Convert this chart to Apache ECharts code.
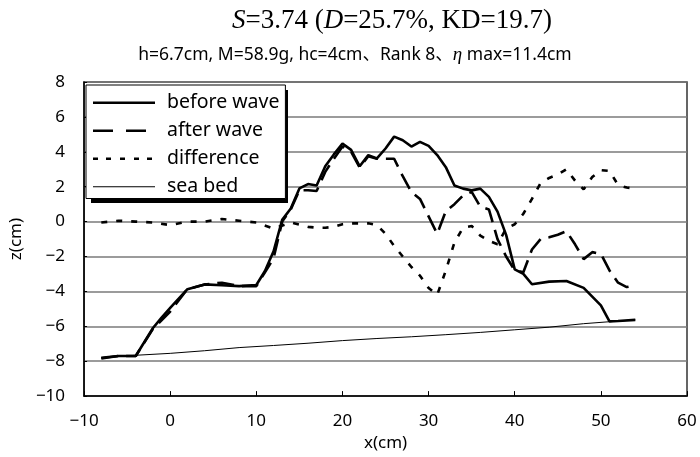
<!DOCTYPE html>
<html>
<head>
<meta charset="utf-8">
<script src="https://cdn.jsdelivr.net/npm/echarts@6/dist/echarts.min.js"></script>
<style>
  html, body { margin: 0; padding: 0; background: #fff; }
  #chart { width: 700px; height: 457px; }
</style>
</head>
<body>
<div id="chart"></div>
<script>
// Beach profile measurements (x in cm, z in cm)
const beforeX = [-8,-6,-4,-2,-1,0,2,4,6,8,10,11,12,13,14,15,16,17,18,19,20,21,22,23,24,25,26,27,28,29,30,31,32,33,34,35,36,37,38,39,40,41,42,44,46,48,50,51,52,54];
const beforeZ = [-7.8,-7.7,-7.7,-6.1,-5.5,-4.95,-3.87,-3.6,-3.65,-3.7,-3.63,-2.83,-1.7,0.1,0.75,1.9,2.15,2.07,3.17,3.85,4.47,4.11,3.17,3.81,3.62,4.19,4.87,4.66,4.3,4.57,4.34,3.81,3.12,2.07,1.89,1.79,1.89,1.42,0.57,-0.76,-2.74,-3.0,-3.59,-3.44,-3.4,-3.8,-4.8,-5.72,-5.7,-5.63];

const afterX = [-8,-6,-4,-2,0,2,4,6,8,10,11,12,13,14,15,16,17,18,19,20,21,22,23,24,25,26,27,28,29,30,31,32,33,34,35,36,37,38,39,40,41,42,43,44,45,46,47,48,49,50,51,52,53,54];
const afterZ = [-7.85,-7.7,-7.7,-6.15,-5.15,-3.87,-3.6,-3.5,-3.7,-3.7,-2.9,-2.1,0.0,0.7,1.8,1.8,1.75,2.85,3.6,4.3,4.0,3.1,3.75,3.6,3.6,3.6,2.6,1.7,1.3,0.3,-0.7,0.6,1.0,1.5,1.7,0.85,0.7,-1.0,-2.0,-2.8,-2.9,-1.6,-1.0,-0.9,-0.75,-0.55,-1.3,-2.15,-1.75,-1.85,-2.8,-3.5,-3.75,-3.65];

const diffX = [-8,-6,-4,-2,0,2,4,6,8,10,12,14,16,17,18,19,20,21,22,23,24,25,26,27,28,29,30,31,32,33,34,35,36,37,38,39,40,41,42,43,44,45,46,47,48,49,50,51,52,53,54];
const diffZ = [-0.05,0.05,0,-0.05,-0.2,0,0,0.15,0.05,-0.05,-0.4,-0.05,-0.3,-0.35,-0.35,-0.3,-0.15,-0.1,-0.1,-0.1,-0.2,-0.7,-1.4,-2.0,-2.6,-3.1,-3.8,-4.2,-2.8,-1.2,-0.35,-0.25,-0.8,-1.1,-1.3,-0.4,-0.15,0.45,1.3,2.2,2.5,2.7,3.0,2.35,1.85,2.55,2.95,2.9,2.1,1.95,1.9];

const seaX = [-8,-4,0,4,8,12,16,20,24,28,32,36,40,44,48,52,54];
const seaZ = [-7.8,-7.66,-7.55,-7.4,-7.22,-7.1,-6.97,-6.82,-6.7,-6.6,-6.48,-6.35,-6.2,-6.05,-5.85,-5.7,-5.63];

const seriesNames = ['before wave', 'after wave', 'difference', 'sea bed'];

// Legend keys drawn as filled shapes in a 62 x 16 box (line, dashes, dots, hairline)
const legendIcons = [
  'path://M0,0M62,16M0,6.7h62v2.6h-62z',
  'path://M0,0M62,16M0,6.7h20v2.6h-20zM33,6.7h20v2.6h-20z',
  'path://M0,0M62,16M0,6.7h5v2.6h-5zM13,6.7h5v2.6h-5zM27,6.7h5v2.6h-5zM41,6.7h5v2.6h-5zM54,6.7h5v2.6h-5z',
  'path://M0,0M62,16M0,7.5h62v1h-62z'
];

const pairs = (xs, zs) => xs.map((x, i) => [x, zs[i]]);
const minus = v => String(v).replace('-', '\u2212');

const gothic = '"Noto Sans", "Noto Sans CJK JP", sans-serif';
const serif = '"Liberation Serif", "DejaVu Serif", serif';

// legend box geometry
const LEG_X = 86, LEG_Y = 85, LEG_W = 197, LEG_H = 113, SHADOW = 5;

const chart = echarts.init(document.getElementById('chart'), null, { renderer: 'canvas' });

chart.setOption({
  animation: false,
  backgroundColor: '#fff',
  graphic: [
    {
      type: 'text',
      x: 392, y: 21, z: 10,
      style: {
        text: '{i|S}{n|=3.74 (}{i|D}{n|=25.7%, KD=19.7)}',
        align: 'center', verticalAlign: 'middle',
        textAlign: 'center', textVerticalAlign: 'middle',
        rich: {
          i: { fontFamily: serif, fontSize: 27, fontStyle: 'italic', fill: '#000' },
          n: { fontFamily: serif, fontSize: 27, fill: '#000' }
        }
      }
    },
    {
      type: 'text',
      x: 355, y: 55, z: 10,
      style: {
        text: '{n|h=6.7cm, M=58.9g, hc=4cm、Rank 8、}{i|η}{n| max=11.4cm}',
        align: 'center', verticalAlign: 'middle',
        textAlign: 'center', textVerticalAlign: 'middle',
        rich: {
          n: { fontFamily: gothic, fontSize: 17.5, fill: '#000' },
          i: { fontFamily: serif, fontSize: 19, fontStyle: 'italic', fill: '#000' }
        }
      }
    },
    {
      // solid drop shadow behind the legend box
      type: 'rect', z: 3,
      shape: { x: LEG_X + SHADOW, y: LEG_Y + SHADOW, width: LEG_W, height: LEG_H },
      style: { fill: '#000' }
    }
  ],
  grid: {
    left: 82, right: 13, top: 82, bottom: 57,
    show: true, borderColor: '#333', borderWidth: 1.5, backgroundColor: 'transparent'
  },
  legend: {
    orient: 'vertical', z: 4,
    left: LEG_X, top: LEG_Y,
    data: seriesNames.map((n, i) => ({ name: n, icon: legendIcons[i] })),
    itemWidth: 62, itemHeight: 16, itemGap: 8.5,
    padding: [8, 6, 2, 7],
    backgroundColor: '#fff',
    borderColor: '#000', borderWidth: 1,
    itemStyle: { borderWidth: 0, color: '#000' },
    textStyle: { fontFamily: gothic, fontSize: 19.5, color: '#000', padding: [0, 0, 0, 7], width: 110, overflow: 'none' },
    inactiveColor: '#000'
  },
  xAxis: {
    type: 'value', min: -10, max: 60, interval: 10,
    name: 'x(cm)', nameLocation: 'middle', nameGap: 35,
    nameTextStyle: { fontFamily: gothic, fontSize: 17, color: '#000' },
    axisLine: { show: true, onZero: false, lineStyle: { color: '#000', width: 1.5 } },
    axisTick: { show: true, inside: true, length: 5, lineStyle: { color: '#000' } },
    axisLabel: { fontFamily: gothic, fontSize: 17, color: '#000', margin: 17, formatter: minus },
    splitLine: { show: false }
  },
  yAxis: {
    type: 'value', min: -10, max: 8, interval: 2,
    name: 'z(cm)', nameLocation: 'middle', nameGap: 57, nameRotate: 90,
    nameTextStyle: { fontFamily: gothic, fontSize: 17, color: '#000' },
    axisLine: { show: true, onZero: false, lineStyle: { color: '#000', width: 1.5 } },
    axisTick: { show: true, inside: true, length: 3, lineStyle: { color: '#000' } },
    axisLabel: { fontFamily: gothic, fontSize: 17, color: '#000', margin: 19, formatter: minus },
    splitLine: { show: true, lineStyle: { color: '#7a7a7a', width: 1.5 } }
  },
  series: [
    {
      name: seriesNames[0], type: 'line', data: pairs(beforeX, beforeZ),
      showSymbol: false, symbol: 'none', z: 2,
      lineStyle: { color: '#000', width: 2.6, type: 'solid' },
      itemStyle: { color: '#000' }
    },
    {
      name: seriesNames[1], type: 'line', data: pairs(afterX, afterZ),
      showSymbol: false, symbol: 'none', z: 2,
      lineStyle: { color: '#000', width: 2.6, type: [17, 8] },
      itemStyle: { color: '#000' }
    },
    {
      name: seriesNames[2], type: 'line', data: pairs(diffX, diffZ),
      showSymbol: false, symbol: 'none', z: 2,
      lineStyle: { color: '#000', width: 2.6, type: [6, 9] },
      itemStyle: { color: '#000' }
    },
    {
      name: seriesNames[3], type: 'line', data: pairs(seaX, seaZ),
      showSymbol: false, symbol: 'none', z: 2,
      lineStyle: { color: '#000', width: 1, type: 'solid' },
      itemStyle: { color: '#000' }
    }
  ]
});
</script>
</body>
</html>
